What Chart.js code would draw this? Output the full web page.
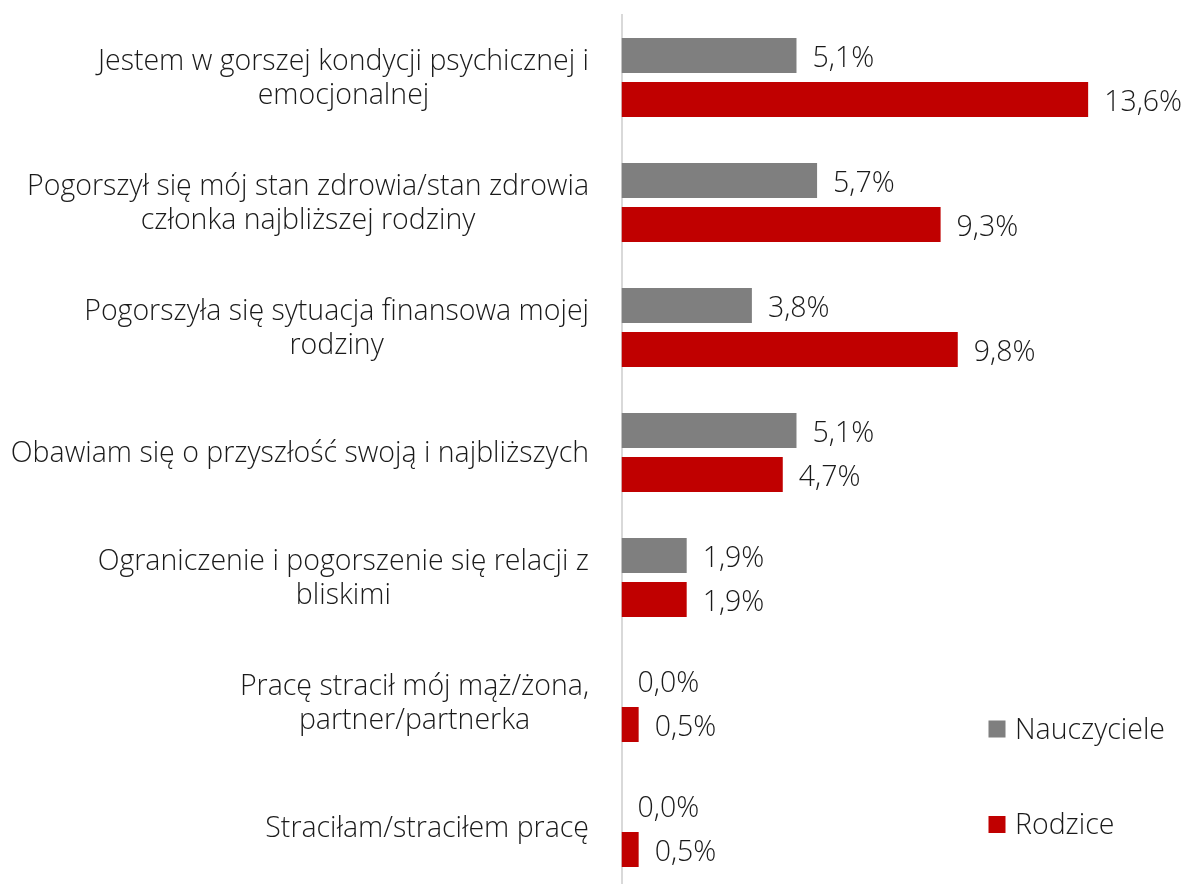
<!DOCTYPE html>
<html>
<head>
<meta charset="utf-8">
<script src="https://cdn.jsdelivr.net/npm/chart.js@4.4.0/dist/chart.umd.min.js"></script>
<style>
html,body{margin:0;padding:0;background:#fff;overflow:hidden;}
#wrap{position:relative;width:1185px;height:890px;}
</style>
</head>
<body>
<div id="wrap"><canvas id="c"></canvas></div>
<script>
const categories = [
  ["Jestem w gorszej kondycji psychicznej i", "emocjonalnej"],
  ["Pogorszył się mój stan zdrowia/stan zdrowia", "członka najbliższej rodziny"],
  ["Pogorszyła się sytuacja finansowa mojej", "rodziny"],
  ["Obawiam się o przyszłość swoją i najbliższych"],
  ["Ograniczenie i pogorszenie się relacji z", "bliskimi"],
  ["Pracę stracił mój mąż/żona,", "partner/partnerka"],
  ["Straciłam/straciłem pracę"]
];
const seriesNames = ["Nauczyciele", "Rodzice"];
const nauczyciele = [5.1, 5.7, 3.8, 5.1, 1.9, 0.0, 0.0];
const rodzice = [13.6, 9.3, 9.8, 4.7, 1.9, 0.5, 0.5];
const seriesColors = ["#7f7f7f", "#c00000"];

const FONT_FAMILY = "'Open Sans'";
const FONT_WEIGHT = 300;
const FONT_SIZE = 28.5;
const LINE_H = 34;
const TEXT_COLOR = "#1a1a1a";
const fontStr = FONT_WEIGHT + " " + FONT_SIZE + "px " + FONT_FAMILY;

const fmt = v => v.toFixed(1).replace('.', ',') + '%';

const yLabelsPlugin = {
  id: 'yLabels',
  afterDraw(chart) {
    const ctx = chart.ctx;
    const y = chart.scales.y;
    const right = 589;
    ctx.save();
    ctx.font = fontStr;
    ctx.fillStyle = TEXT_COLOR;
    ctx.textBaseline = 'middle';
    ctx.textAlign = 'center';
    categories.forEach((lines, i) => {
      const cy = y.getPixelForTick(i) + 1.5;
      const w = Math.max(...lines.map(l => ctx.measureText(l).width));
      const cx = right - w / 2;
      const top = cy - (lines.length - 1) * LINE_H / 2;
      lines.forEach((l, j) => ctx.fillText(l, cx, top + j * LINE_H));
    });
    ctx.restore();
  }
};

const valueLabelsPlugin = {
  id: 'valueLabels',
  afterDatasetsDraw(chart) {
    const ctx = chart.ctx;
    ctx.save();
    ctx.font = fontStr;
    ctx.fillStyle = TEXT_COLOR;
    ctx.textBaseline = 'middle';
    ctx.textAlign = 'left';
    chart.data.datasets.forEach((ds, di) => {
      const meta = chart.getDatasetMeta(di);
      meta.data.forEach((bar, i) => {
        ctx.fillText(fmt(ds.data[i]), bar.x + 16, bar.y + 3);
      });
    });
    ctx.restore();
  }
};

const legendPlugin = {
  id: 'customLegend',
  afterDraw(chart) {
    const ctx = chart.ctx;
    const items = [{y: 729}, {y: 824.5}];
    ctx.save();
    ctx.font = fontStr;
    ctx.textBaseline = 'middle';
    ctx.textAlign = 'left';
    chart.data.datasets.forEach((ds, i) => {
      const cy = items[i].y;
      ctx.fillStyle = ds.backgroundColor;
      ctx.fillRect(988.5, cy - 8.5, 17, 17);
      ctx.fillStyle = TEXT_COLOR;
      ctx.fillText(ds.label, 1015, cy + 1.5);
    });
    ctx.restore();
  }
};

new Chart(document.getElementById('c'), {
  type: 'bar',
  data: {
    labels: categories,
    datasets: [
      {label: seriesNames[0], data: nauczyciele, backgroundColor: seriesColors[0]},
      {label: seriesNames[1], data: rodzice, backgroundColor: seriesColors[1]}
    ]
  },
  options: {
    indexAxis: 'y',
    responsive: true,
    maintainAspectRatio: false,
    animation: false,
    categoryPercentage: 0.704,
    barPercentage: 0.795,
    layout: {padding: {top: 15, bottom: 0, left: 0, right: 14.5}},
    plugins: {legend: {display: false}, tooltip: {enabled: false}},
    scales: {
      x: {display: false, min: 0, max: 16},
      y: {
        afterFit(scale) { scale.width = 621.5; },
        ticks: {display: false},
        grid: {display: true, drawOnChartArea: false, drawTicks: false},
        border: {display: true, color: '#d9d9d9', width: 2}
      }
    }
  },
  plugins: [yLabelsPlugin, valueLabelsPlugin, legendPlugin]
});
</script>
</body>
</html>
